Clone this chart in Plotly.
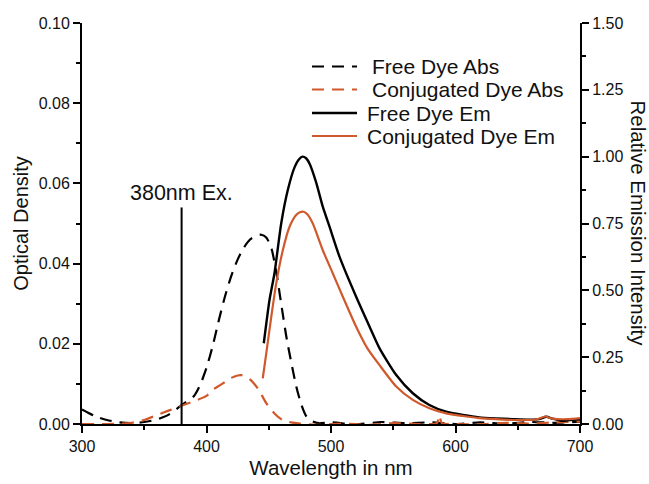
import plotly.graph_objects as go

# ---- data ----
wl_free_abs = [300, 310, 320, 330, 340, 350, 360, 370, 380, 390, 395, 400, 405, 410, 415, 420, 425, 430, 435, 440,
               444, 448, 452, 456, 460, 464, 468, 472, 476, 480, 485, 490, 500, 520, 540, 560, 580, 600, 620, 640,
               660, 680, 700]
free_abs = [0.0036, 0.0020, 0.0010, 0.0004, 0.0002, 0.0005, 0.0011, 0.0024, 0.0047, 0.0070, 0.0098, 0.0140, 0.0195,
            0.026, 0.032, 0.037, 0.041, 0.044, 0.046, 0.047, 0.0472, 0.0465, 0.044, 0.038, 0.030, 0.022, 0.0155,
            0.0095, 0.005, 0.002, 0.0007, 0.0002, 0.0004, -0.0001, 0.0005, 0.0002, 0.0004, 0.0, 0.0004, 0.0001,
            0.0005, 0.0003, 0.0006]

wl_conj_abs = [300, 310, 320, 330, 340, 350, 360, 370, 380, 390, 400, 405, 410, 415, 420, 425, 428, 432, 437, 442,
               448, 455, 461, 468, 475, 490, 510, 530, 550, 570, 585, 587, 589, 600, 620, 640, 660, 680, 700]
conj_abs = [0.0, 0.0, 0.0, 0.0001, 0.0003, 0.0010, 0.0022, 0.0034, 0.0046, 0.0057, 0.0070, 0.0085, 0.0095, 0.0105,
            0.0115, 0.0121, 0.0122, 0.0118, 0.0105, 0.0085, 0.0052, 0.0025, 0.0010, 0.0004, 0.0001, -0.0002, 0.0001,
            -0.0002, 0.0002, 0.0, 0.0002, 0.0022, 0.0002, 0.0, -0.0001, 0.0003, 0.0001, 0.0004, 0.0006]

wl_free_em = [446, 450.6, 454.6, 460, 465.3, 470.7, 474, 477, 480, 483, 488, 493.4, 498.8, 506.8, 520.2, 531, 539,
              552.4, 565.7, 579, 592.5, 606, 619, 632, 646, 660, 667, 673, 678, 685, 692, 700]
free_em = [0.302, 0.464, 0.564, 0.75, 0.875, 0.96, 0.988, 1.0, 0.994, 0.972, 0.905, 0.813, 0.738, 0.626, 0.476,
           0.364, 0.283, 0.183, 0.115, 0.071, 0.046, 0.034, 0.025, 0.021, 0.018, 0.016, 0.018, 0.027, 0.02, 0.012,
           0.015, 0.018]

wl_conj_em = [445.2, 448, 452, 456, 461.3, 466.7, 472, 475, 478, 481, 485.4, 493.4, 501.4, 509.5, 520.2, 529, 539,
              552.4, 565.7, 579, 592.5, 606, 619, 632, 650, 665, 672, 678, 690, 700]
conj_em = [0.171, 0.264, 0.40, 0.526, 0.65, 0.738, 0.782, 0.792, 0.794, 0.785, 0.75, 0.65, 0.564, 0.476, 0.364,
           0.285, 0.22, 0.14, 0.09, 0.059, 0.04, 0.03, 0.022, 0.018, 0.015, 0.017, 0.028, 0.02, 0.018, 0.022]

ex_wl = [380, 380]
ex_od = [0, 0.054]

x_ticks = [300, 400, 500, 600, 700]
series_names = ["Free Dye Abs", "Conjugated Dye Abs", "Free Dye Em", "Conjugated Dye Em"]

BLACK = "#000000"
ORANGE = "#d0592c"
FONT = "Liberation Sans, Arial, sans-serif"
DASH = "12px,8px"
styles = [dict(color=BLACK, width=2.2, dash=DASH), dict(color=ORANGE, width=2.2, dash=DASH),
          dict(color=BLACK, width=2.4), dict(color=ORANGE, width=2.2)]

W, H = 649, 484
ML, MR, MT, MB = 82, 69, 23, 60
PW, PH = W - ML - MR, H - MT - MB


def px_x(px):
    return (px - ML) / PW


def px_y(py):
    return (H - MB - py) / PH


fig = go.Figure()
fig.add_trace(go.Scatter(x=wl_free_abs, y=free_abs, mode="lines", name=series_names[0], showlegend=False,
                         line=dict(shape="spline", smoothing=0.6, **styles[0]), yaxis="y"))
fig.add_trace(go.Scatter(x=wl_conj_abs, y=conj_abs, mode="lines", name=series_names[1], showlegend=False,
                         line=dict(shape="spline", smoothing=0.6, **styles[1]), yaxis="y"))
fig.add_trace(go.Scatter(x=wl_free_em, y=free_em, mode="lines", name=series_names[2], showlegend=False,
                         line=dict(shape="spline", smoothing=0.6, **styles[2]), yaxis="y2"))
fig.add_trace(go.Scatter(x=wl_conj_em, y=conj_em, mode="lines", name=series_names[3], showlegend=False,
                         line=dict(shape="spline", smoothing=0.6, **styles[3]), yaxis="y2"))
fig.add_trace(go.Scatter(x=ex_wl, y=ex_od, mode="lines", showlegend=False,
                         line=dict(color=BLACK, width=2), yaxis="y"))

axis_common = dict(showline=True, linecolor=BLACK, linewidth=2, ticks="outside", ticklen=7, tickwidth=2,
                   tickcolor=BLACK, showgrid=False, zeroline=False, automargin=False,
                   tickfont=dict(family=FONT, size=16, color="#111"))

# hand-placed legend (line samples + labels)
legend_rows_y = [66.5, 89.5, 113, 136]
legend_text_x = [370, 370, 365, 365]
shapes = []
annotations = []
for name, st, ly, tx in zip(series_names, styles, legend_rows_y, legend_text_x):
    shapes.append(dict(type="line", xref="paper", yref="paper", x0=px_x(312), x1=px_x(357),
                       y0=px_y(ly), y1=px_y(ly), line=dict(color=st["color"], width=st["width"],
                                                          dash=st.get("dash", "solid"))))
    annotations.append(dict(x=px_x(tx), y=px_y(ly), xref="paper", yref="paper", text=name, showarrow=False,
                            xanchor="left", yanchor="middle", font=dict(family=FONT, size=21, color="#111")))

annotations += [
    dict(x=380, y=0.054, xref="x", yref="y", text="380nm Ex.", showarrow=False,
         yanchor="bottom", yshift=0, font=dict(family=FONT, size=21.5, color="#111")),
    dict(x=1, y=0.5, xref="paper", yref="paper", text="Relative Emission Intensity", showarrow=False,
         textangle=90, xanchor="center", yanchor="middle", xshift=58,
         font=dict(family=FONT, size=20.5, color="#111")),
]

fig.update_layout(
    width=W, height=H,
    margin=dict(l=ML, r=MR, t=MT, b=MB),
    paper_bgcolor="white", plot_bgcolor="white",
    font=dict(family=FONT, color="#111"),
    showlegend=False,
    xaxis=dict(range=[300, 700], tickvals=x_ticks,
               minor=dict(dtick=50, ticks="outside", ticklen=4, tickwidth=2, tickcolor=BLACK),
               title=dict(text="Wavelength in nm", font=dict(family=FONT, size=20.5), standoff=6),
               **axis_common),
    yaxis=dict(range=[0, 0.1], dtick=0.02, tickformat=".2f",
               minor=dict(dtick=0.01, ticks="outside", ticklen=4, tickwidth=2, tickcolor=BLACK),
               title=dict(text="Optical Density", font=dict(family=FONT, size=20), standoff=5),
               **axis_common),
    yaxis2=dict(range=[0, 1.5], dtick=0.25, tickformat=".2f", overlaying="y", side="right",
                minor=dict(dtick=0.125, ticks="outside", ticklen=4, tickwidth=2, tickcolor=BLACK),
                **axis_common),
    shapes=shapes,
    annotations=annotations,
)

fig.write_html("out.html", config={"displayModeBar": False},
               post_script="document.body.style.margin='0px';")
